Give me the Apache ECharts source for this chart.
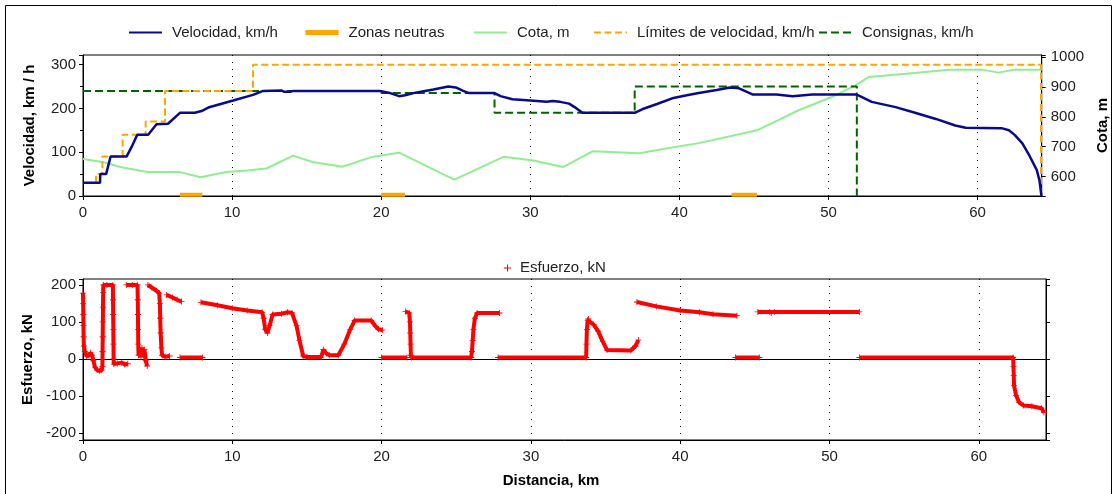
<!DOCTYPE html>
<html><head><meta charset="utf-8">
<script src="https://cdn.jsdelivr.net/npm/echarts@6/dist/echarts.min.js"></script>
<style>html,body{margin:0;padding:0;background:#fff}#c{width:1118px;height:494px}</style>
</head><body><div id="c"></div>
<script>
// ---- data (km, value) ----
const velocidad = [[0,30],[1.14,30],[1.16,50],[1.55,50],[1.85,90],[2.92,90],[3.26,112],[3.64,140],[4.37,140],[4.93,164],[5.7,165],[6.5,190],[7.5,190],[7.95,194],[8.4,202],[10.07,218],[11.4,231],[12.08,240],[13.3,241],[13.5,238],[13.9,238],[14.1,240],[19.9,240],[20.5,236],[21.2,228],[21.6,230],[22.3,236],[23.5,243],[24.5,250],[25.0,248],[25.5,240],[25.9,235],[27.6,235],[28.0,228],[28.8,221],[30.0,218],[31.1,215],[31.5,217],[32.0,215],[32.6,211],[33.1,200],[33.5,190],[37.0,190],[37.5,198],[38.5,210],[39.6,224],[40.5,230],[41.3,235],[42.5,242],[43.4,248],[44.0,246],[44.9,232],[46.5,232],[47.6,228],[48.9,232],[51.8,232],[52.0,230],[52.9,215],[54.5,203],[55.8,190],[57.2,176],[58.5,161],[59.2,156],[61.6,155],[62.1,150],[62.5,139],[63.0,120],[63.4,97],[63.97,59],[64.15,35],[64.28,0]];
const cota = [[0,659],[1.4,648],[2.5,632],[4.3,615],[6.5,615],[7.9,598],[9.6,615],[11.0,620],[12.3,627],[14.1,670],[15.4,649],[17.4,633],[19.4,666],[21.2,680],[24.9,590],[28.2,666],[30.2,654],[32.2,632],[34.2,685],[37.3,678],[39.5,697],[41.3,712],[45.2,755],[48.0,822],[50.3,868],[51.8,905],[52.7,933],[55.2,944],[58.1,958],[60.3,958],[61.4,948],[62.5,958],[64.3,958]];
const limites = [[0.87,30],[0.87,50],[1.3,50],[1.3,90],[2.66,90],[2.66,140],[4.2,140],[4.2,170],[5.5,170],[5.5,240],[11.4,240],[11.4,300],[64.25,300],[64.25,0]];
const consignas = [[0,240],[20,240],[20,235],[27.6,235],[27.6,190],[37.0,190],[37.0,250],[51.9,250],[51.9,0]];
const zonasNeutras = [[6.5,8.0],[20.0,21.6],[43.5,45.2]];
const esfuerzo = [
 [[0,178],[0.01,150],[0.02,120],[0.03,90],[0.04,60],[0.06,35],[0.12,20],[0.25,8],[0.4,10],[0.5,17],[0.6,10],[0.7,-5],[0.8,-22],[0.95,-30],[1.1,-32],[1.25,-30],[1.3,-20],[1.31,20],[1.32,60],[1.33,100],[1.34,140],[1.35,180],[1.36,200],[1.6,200],[2.0,200],[2.01,160],[2.02,120],[2.03,80],[2.04,40],[2.05,0],[2.06,-14],[2.3,-12],[2.6,-10],[2.8,-15],[3.0,-13]],
 [[2.9,200],[3.3,200],[3.65,200],[3.67,160],[3.68,120],[3.69,80],[3.7,40],[3.72,10],[3.8,25],[3.88,5],[3.95,30],[4.05,10],[4.12,25],[4.2,-5],[4.3,-19]],
 [[4.35,200],[4.6,193],[4.9,185],[5.1,178],[5.15,150],[5.17,110],[5.2,70],[5.25,30],[5.3,10],[5.5,6],[5.8,8]],
 [[5.6,173],[6.0,166],[6.3,160],[6.6,155]],
 [[6.5,4],[8.0,4]],
 [[7.9,153],[9.0,145],[10.0,137],[11.0,131],[12.0,126],[12.1,110],[12.2,80],[12.35,70],[12.5,90],[12.7,120],[13.3,122],[13.7,126],[14.0,124],[14.3,90],[14.5,50],[14.75,8],[15.0,5],[15.95,5],[16.1,25],[16.3,15],[16.5,10],[17.1,10],[17.5,40],[17.9,80],[18.2,104],[19.3,104],[19.6,88],[19.8,80],[20.05,78]],
 [[20.0,4],[21.7,4]],
 [[21.6,128],[21.85,124],[21.9,100],[21.92,70],[21.94,40],[21.96,10],[22.0,4],[26.0,4],[26.05,20],[26.1,50],[26.15,80],[26.25,110],[26.4,124],[27.9,124]],
 [[27.8,4],[33.7,4],[33.72,40],[33.75,80],[33.8,105],[33.85,108],[34.2,93],[34.5,75],[34.8,48],[35.1,24],[36.7,23],[37.0,35],[37.2,51]],
 [[37.1,154],[38.4,142],[40.0,131],[41.3,126],[42.2,121],[43.8,117]],
 [[43.7,4],[45.3,4]],
 [[45.2,127],[46.0,127],[46.1,124],[46.3,127],[52.0,127]],
 [[52.0,4],[62.3,4],[62.32,-20],[62.34,-45],[62.36,-72],[62.5,-99],[62.7,-117],[63.0,-126],[63.55,-128],[64.2,-133],[64.36,-145]]
];
const names = {v:'Velocidad, km/h', z:'Zonas neutras', c:'Cota, m', l:'Límites de velocidad, km/h', k:'Consignas, km/h', e:'Esfuerzo, kN'};

// ---- build ----
const GAP = ['-','-'];
const zonaLevel = 3;
const zonasData = [];
zonasNeutras.forEach(([a,b]) => { zonasData.push([a,zonaLevel],[b,zonaLevel],GAP); });
const esfData = [];
esfuerzo.forEach(seg => { seg.forEach(p => esfData.push(p)); esfData.push(GAP); });

const FONT = 'Liberation Sans';
const txt = {fontFamily: FONT, fontSize: 15, color: '#222'};
const nameTxt = {fontFamily: FONT, fontSize: 15, fontWeight: 'bold', color: '#000'};
const plus = 'path://M3,0H4V3H7V4H4V7H3V4H0V3H3Z';
const fmt10 = v => (Math.abs(v % 10) < 1e-9 ? String(v) : '');
const fmt100 = v => (Math.abs(v % 100) < 1e-9 ? String(v) : '');

function xAx(grid, max) {
  return {type:'value', gridIndex:grid, min:0, max:max, interval:10,
    axisLine:{onZero:false, lineStyle:{color:'#000', width:1}},
    axisTick:{show:true, length:4, lineStyle:{color:'#000'}},
    axisLabel:{...txt, margin:9, formatter:fmt10, showMaxLabel:false},
    splitLine:{show:true, lineStyle:{color:'#000', width:1, type:[1,6]}}};
}
function leg(name, left, extra) {
  return {data:[Object.assign({name:name, itemStyle:{opacity:0}}, extra||{})], left:left, top:25, padding:0,
    itemWidth:33, itemHeight:14, selectedMode:false,
    textStyle:{fontFamily:FONT, fontSize:15, color:'#222', padding:[0,0,0,5]}};
}

const option = {
  animation:false,
  backgroundColor:'#fff',
  legend:[
    leg(names.v, 128),
    leg(names.z, 303, {lineStyle:{width:5}}),
    leg(names.c, 473),
    leg(names.l, 593),
    leg(names.k, 818),
    {data:[{name:names.e, icon:plus}], left:504, top:260.5, padding:0, itemWidth:7, itemHeight:7, selectedMode:false,
     textStyle:{fontFamily:FONT, fontSize:15, color:'#222', padding:[0,0,0,4]}}
  ],
  grid:[
    {left:83, top:55, width:960, height:141, show:true, borderColor:'#000', borderWidth:1, backgroundColor:'transparent'},
    {left:83, top:279, width:963, height:161, show:true, borderColor:'#000', borderWidth:1, backgroundColor:'transparent'}
  ],
  xAxis:[xAx(0, 64.3), xAx(1, 64.5)],
  yAxis:[
    {type:'value', gridIndex:0, min:0, max:322, interval:100, name:'Velocidad, km / h', nameLocation:'middle', nameGap:46, nameTextStyle:nameTxt,
     axisLine:{show:true, lineStyle:{color:'#000'}}, axisTick:{show:true, length:4, lineStyle:{color:'#000'}},
     minorTick:{show:true, splitNumber:2, length:3, lineStyle:{color:'#000'}},
     axisLabel:{...txt, margin:7, formatter:fmt100}, splitLine:{show:false}},
    {type:'value', gridIndex:0, position:'right', min:535, max:1007, splitNumber:5, name:'Cota, m', nameLocation:'middle', nameGap:50, nameTextStyle:nameTxt,
     axisLine:{show:true, lineStyle:{color:'#000'}}, axisTick:{show:true, length:4, lineStyle:{color:'#000'}},
     axisLabel:{...txt, margin:9, formatter:fmt100}, splitLine:{show:false}},
    {type:'value', gridIndex:1, min:-219, max:216, splitNumber:5, name:'Esfuerzo, kN', nameLocation:'middle', nameGap:48, nameTextStyle:nameTxt,
     axisLine:{show:true, lineStyle:{color:'#000'}}, axisTick:{show:true, length:4, lineStyle:{color:'#000'}},
     axisLabel:{...txt, margin:7, formatter:fmt100}, splitLine:{show:false}},
    {type:'value', gridIndex:1, position:'right', min:-219, max:216, splitNumber:5,
     axisLine:{show:true, lineStyle:{color:'#000'}}, axisTick:{show:true, length:4, lineStyle:{color:'#000'}},
     axisLabel:{show:false}, splitLine:{show:false}}
  ],
  series:[
    {name:names.c, type:'line', xAxisIndex:0, yAxisIndex:1, data:cota, symbol:'none', color:'#90EE90', lineStyle:{width:2, color:'#90EE90'}, z:2},
    {name:names.k, type:'line', xAxisIndex:0, yAxisIndex:0, data:consignas, symbol:'none', color:'#006400', lineStyle:{width:2, color:'#006400', type:[8,4]}, z:3},
    {name:names.l, type:'line', xAxisIndex:0, yAxisIndex:0, data:limites, symbol:'none', color:'#FFA500', lineStyle:{width:2, color:'#FFA500', type:[7,3.5]}, z:4},
    {name:names.z, type:'line', xAxisIndex:0, yAxisIndex:0, data:zonasData, symbol:'none', connectNulls:false, color:'#FFA500', lineStyle:{width:4, color:'#FFA500'}, z:5},
    {name:names.v, type:'line', xAxisIndex:0, yAxisIndex:0, data:velocidad, symbol:'none', color:'#0A0A8C', lineStyle:{width:2.5, color:'#0A0A8C'}, z:6},
    {name:names.e, type:'line', xAxisIndex:1, yAxisIndex:2, data:esfData, connectNulls:false, symbol:plus, symbolSize:6, showSymbol:true,
     color:'#FF0000', itemStyle:{color:'#FF0000'}, lineStyle:{width:4, color:'#FF0000'}, z:5,
     markLine:{silent:true, symbol:['none','none'], label:{show:false}, lineStyle:{color:'#000', type:'solid', width:1}, data:[{yAxis:0}]}}
  ],
  graphic:[
    {type:'rect', shape:{x:5.5, y:5.5, width:1106, height:520}, style:{fill:'none', stroke:'#000', lineWidth:1}, silent:true},
    {type:'text', x:551, y:481, style:{text:'Distancia, km', font:'bold 15px "Liberation Sans"', fill:'#000', textAlign:'center', textVerticalAlign:'middle'}}
  ]
};
const chart = echarts.init(document.getElementById('c'), null, {renderer:'canvas'});
chart.setOption(option);
</script></body></html>
